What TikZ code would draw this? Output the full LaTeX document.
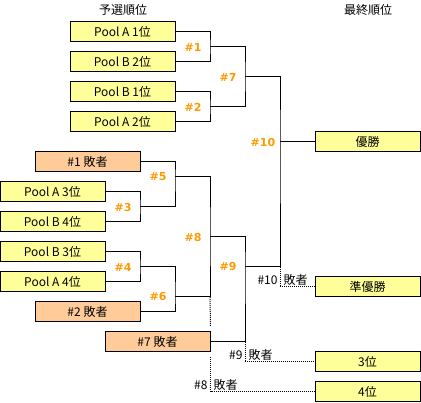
\documentclass[tikz,border=0pt]{standalone}
\usepackage{fontspec}
\setmainfont{Noto Sans CJK JP}
\newfontfamily\numfont{DejaVu Sans}
\usetikzlibrary{calc}
\definecolor{seedfill}{HTML}{FFFF99}
\definecolor{losefill}{HTML}{FFCC99}
\definecolor{gamecol}{HTML}{FF9900}
\tikzset{
  seedbox/.style={draw,fill=seedfill,minimum width=105pt,minimum height=20pt,inner sep=0pt,font=\fontsize{12}{14}\selectfont},
  losebox/.style={seedbox,fill=losefill},
  gameno/.style={text=gamecol,font=\numfont\bfseries\fontsize{11}{13}\selectfont,inner sep=0pt},
  note/.style={font=\fontsize{12}{14}\selectfont,inner sep=0pt},
}
\begin{document}
\begin{tikzpicture}[x=1pt,y=-1pt,line width=1pt]
\useasboundingbox (0,0) rectangle (421,403);
% headings
\node[note] (head1) at (123,10) {予選順位};
\node[note] (head2) at (368,10) {最終順位};
% seeds and losers coming back
\foreach \n/\x/\y/\t in {pa1/122.5/32/Pool A 1位,pb2/122.5/62/Pool B 2位,pb1/122.5/92/Pool B 1位,pa2/122.5/122/Pool A 2位,
  pa3/52.5/192/Pool A 3位,pb4/52.5/222/Pool B 4位,pb3/52.5/252/Pool B 3位,pa4/52.5/282/Pool A 4位}
  {\node[seedbox] (\n) at (\x,\y) {\t};}
\node[losebox] (l1) at (87.5,162) {\#1 敗者};
\node[losebox] (l2) at (87.5,312) {\#2 敗者};
\node[losebox] (l7) at (157.5,342) {\#7 敗者};
% final places
\node[seedbox] (first) at (367.5,142) {優勝};
\node[seedbox] (second) at (367.5,287) {準優勝};
\node[seedbox] (third) at (367.5,362) {3位};
\node[seedbox] (fourth) at (367.5,392) {4位};
% junctions of the bracket
\coordinate (j1) at (210,47);  \coordinate (j2) at (210,107);
\coordinate (j7) at (245,77);  \coordinate (j10) at (280,142);
\coordinate (j3) at (140,207); \coordinate (j4) at (140,267);
\coordinate (j5) at (175,177); \coordinate (j6) at (175,297);
\coordinate (j8) at (210,237); \coordinate (j9) at (245,267);
% winners' side
\draw (pa1.east) -| (j1) |- (pb2.east);
\draw (pb1.east) -| (j2) |- (pa2.east);
\draw (j1) -| (j7) |- (j2);
\draw (j7) -| (j10) |- (j9);
\draw (j10) -- (first.west);
% losers' side
\draw (pa3.east) -| (j3) |- (pb4.east);
\draw (pb3.east) -| (j4) |- (pa4.east);
\draw (l1.east) -| (j5) |- (j3);
\draw (j4) -| (j6) |- (l2.east);
\draw (j5) -| (j8) |- (j6);
\draw (j8) -| (j9) |- (l7.east);
% match numbers
\foreach \x/\y/\n in {193/47/1,193/107/2,228/77/7,263/142/10,158/177/5,123/207/3,193/237/8,123/267/4,158/297/6,228/267/9}
  {\node[gameno] (g\n) at (\x,\y) {\#\n};}
% losers to final places
\draw[dash pattern=on 1pt off 1pt] (j10 |- j9) |- (second.west);
\draw[dash pattern=on 1pt off 1pt] (j9 |- l7.east) |- (third.west);
\draw[dash pattern=on 1pt off 1pt] (j8 |- j6) -- ($(l7.north east)+(0,-5)$);
\draw[dash pattern=on 1pt off 1pt] ($(l7.south east)+(0,5)$) |- (fourth.west);
\node[note,anchor=east] (n10) at (278,280) {\#10};
\node[note,anchor=west] (d10) at (283,280) {敗者};
\node[note,anchor=east] (n9) at (243,355) {\#9};
\node[note,anchor=west] (d9) at (248,355) {敗者};
\node[note,anchor=east] (n8) at (208,385) {\#8};
\node[note,anchor=west] (d8) at (213,385) {敗者};
\end{tikzpicture}
\end{document}
